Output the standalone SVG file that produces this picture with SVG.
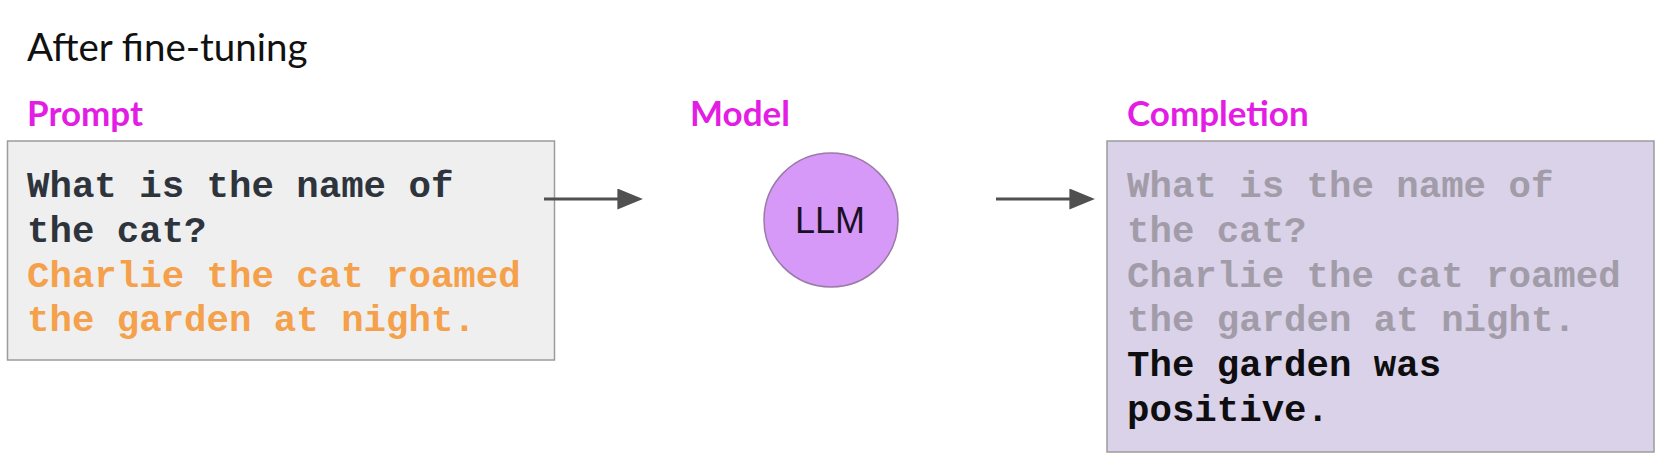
<svg xmlns="http://www.w3.org/2000/svg" width="1671" height="472" viewBox="0 0 1671 472">
<style>
.title{font-family:Lato,"Open Sans",sans-serif;font-size:38.5px;fill:#111}
.label{font-family:Lato,"Open Sans",sans-serif;font-weight:bold;font-size:35px;fill:#e31de3}
.mono{font-family:"Liberation Mono","Courier New",monospace;font-weight:bold;font-size:37.4px}
.box{stroke:#9c9c9c;stroke-width:1.5}
.edge{stroke:#505050;stroke-width:3;fill:none}
</style>
<defs>
<marker id="ah" markerWidth="9" markerHeight="7" refX="0.2" refY="3.5" orient="auto" markerUnits="strokeWidth">
<path d="M0,0 L8.5,3.5 L0,7 z" fill="#505050"/>
</marker>
</defs>
<rect width="1671" height="472" fill="#ffffff"/>
<text class="title" x="27" y="61">After fine-tuning</text>
<g id="prompt">
<text class="label" x="27" y="126">Prompt</text>
<rect class="box" x="7.5" y="141" width="547" height="219" fill="#efefef"/>
<text class="mono" fill="#2e343c" x="27" y="197">What is the name of</text>
<text class="mono" fill="#2e343c" x="27" y="242">the cat?</text>
<text class="mono" fill="#f5a04a" x="27" y="287">Charlie the cat roamed</text>
<text class="mono" fill="#f5a04a" x="27" y="331">the garden at night.</text>
</g>
<g id="model">
<text class="label" x="690" y="126">Model</text>
<circle cx="831" cy="220" r="67" fill="#d699f7" stroke="#9b7aa8" stroke-width="1.5"/>
<text x="830" y="233" text-anchor="middle" font-family="'Liberation Sans',Arial,sans-serif" font-size="36" fill="#1a1024">LLM</text>
</g>
<g id="completion">
<text class="label" x="1127" y="126">Completion</text>
<rect class="box" x="1107" y="141" width="547" height="311" fill="#d9d2e8"/>
<text class="mono" fill="#a19ca8" x="1127" y="197">What is the name of</text>
<text class="mono" fill="#a19ca8" x="1127" y="242">the cat?</text>
<text class="mono" fill="#a19ca8" x="1127" y="287">Charlie the cat roamed</text>
<text class="mono" fill="#a19ca8" x="1127" y="331">the garden at night.</text>
<text class="mono" fill="#0e0e10" x="1127" y="376">The garden was</text>
<text class="mono" fill="#0e0e10" x="1127" y="421">positive.</text>
</g>
<g id="connectors">
<line class="edge" x1="544" y1="199" x2="618" y2="199" marker-end="url(#ah)"/>
<line class="edge" x1="996" y1="199" x2="1070" y2="199" marker-end="url(#ah)"/>
</g>
</svg>
